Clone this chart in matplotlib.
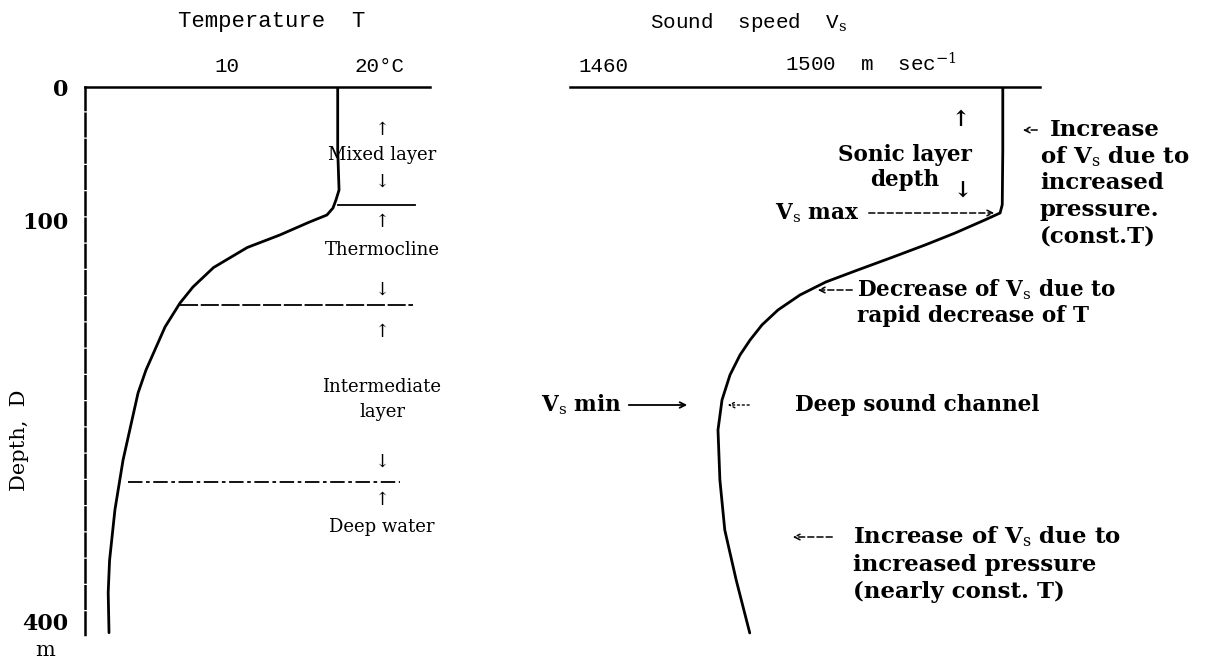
import matplotlib
matplotlib.use("Agg")
import matplotlib.pyplot as plt
from matplotlib.transforms import offset_copy

plt.rcParams["font.family"] = ["DejaVu Serif", "DejaVu Sans"]
plt.rcParams["mathtext.fontset"] = "dejavuserif"

# temperature profile (depth in m, T in deg C)
temp_depth = [0, 47, 77, 84.5, 90.5, 95.7, 101, 110.7, 120, 135, 149.5, 161.5, 179.4, 211.6, 228.8,
              278.9, 316, 354, 378, 408]
temp_c = [18.2, 18.2, 18.3, 18.07, 17.85, 17.4, 16.1, 13.9, 11.5, 9.0, 7.48, 6.52, 5.41, 4.0, 3.41,
          2.3, 1.7, 1.3, 1.2, 1.26]

# sound speed profile (depth in m, Vs in m/s)
speed_depth = [0, 47, 88, 94.2, 99.4, 109.2, 118.1, 127.1, 136.8, 145.8, 155.5, 166.7,
               177.9, 189.2, 200.4, 215.3, 234.0, 256.4, 293.8, 331.2, 368.6, 408.2]
speed = [1535.1, 1535.1, 1535.0, 1534.6, 1531.8, 1526.3, 1520.8, 1514.9, 1508.4, 1502.5,
         1497.75, 1493.7, 1490.75, 1488.55, 1486.7, 1484.86, 1483.39, 1482.65, 1483.0,
         1483.9, 1486.0, 1488.5]

# layer boundaries drawn across the temperature panel
layer_depth = [88, 163, 295]
layer_t_start = [18.2, 6.5, 2.7]
layer_t_end = [23.9, 23.8, 22.8]

depth_ticks = [0, 100, 400]
temp_ticks = [10, 20]
temp_labels = ["10", "20°C"]
speed_ticks = [1460, 1500]
speed_labels = ["1460", "1500  m  sec$^{-1}$"]

W, H = 1215, 663
fig = plt.figure(figsize=(W / 100, H / 100), dpi=100)

def px_axes(x0, x1, y0, y1):
    return fig.add_axes([x0 / W, 1 - y1 / H, (x1 - x0) / W, (y1 - y0) / H])

ax1 = px_axes(85, 430, 87, 655)
ax2 = px_axes(570, 1040, 87, 655)

dmax = (655 - 87) / 1.3375
for ax in (ax1, ax2):
    ax.set_ylim(dmax, 0)
    ax.xaxis.tick_top()
    ax.tick_params(axis="both", length=0, labelsize=14)
    for s in ("right", "bottom"):
        ax.spines[s].set_visible(False)
    ax.spines["top"].set_linewidth(1.8)
    ax.patch.set_alpha(0)

ax1.set_xlim((85 - 92) / 13.5, (430 - 92) / 13.5)
ax2.set_xlim(1460 + (570 - 595) / 5.43, 1460 + (1040 - 595) / 5.43)

# left axis: dashed depth line
ax1.spines["left"].set_bounds(0, 411)
ax1.spines["left"].set_linewidth(1.8)
ax1.spines["left"].set_linestyle((0, (9, 1.5)))
ax1.set_yticks(depth_ticks)
ax1.set_yticklabels([str(d) for d in depth_ticks], fontweight="bold", fontsize=16)
ax1.tick_params(axis="y", pad=12)
ax2.spines["left"].set_visible(False)
ax2.set_yticks([])

ax1.set_xticks(temp_ticks)
ax1.set_xticklabels(temp_labels, family="Liberation Mono", fontsize=15)
ax1.tick_params(axis="x", pad=8)
lab = ax1.get_xticklabels()[1]
lab.set_transform(offset_copy(lab.get_transform(), fig=fig, x=18, units="dots"))

ax2.set_xticks(speed_ticks)
ax2.set_xticklabels(speed_labels, family="Liberation Mono", fontsize=15)
ax2.tick_params(axis="x", pad=8)
lab = ax2.get_xticklabels()[0]
lab.set_transform(offset_copy(lab.get_transform(), fig=fig, x=8, units="dots"))
lab = ax2.get_xticklabels()[1]
lab.set_horizontalalignment("left")
lab.set_transform(offset_copy(lab.get_transform(), fig=fig, x=-27, units="dots"))

# curves
ax1.plot(temp_c, temp_depth, color="black", lw=2.0, solid_capstyle="round", solid_joinstyle="round")
ax2.plot(speed, speed_depth, color="black", lw=2.0, solid_capstyle="round", solid_joinstyle="round")

styles = ["-", (0, (10, 1.5)), (0, (8, 2, 2, 2))]
for d, t0, t1, ls in zip(layer_depth, layer_t_start, layer_t_end, styles):
    ax1.plot([t0, t1], [d, d], color="black", lw=1.3, linestyle=ls)

# titles and axis captions
fig.text(272 / W, 1 - 22 / H, "Temperature  T", family="Liberation Mono", fontsize=16,
         ha="center", va="center")
fig.text(748 / W, 1 - 22 / H, "Sound  speed  V$_\\mathrm{s}$", family="Liberation Mono",
         fontsize=15, ha="center", va="center")
fig.text(20 / W, 1 - 440 / H, "Depth,  D", fontsize=15, rotation=90, ha="center", va="center")
fig.text(45 / W, 1 - 650 / H, "m", fontsize=15, ha="center", va="center")

# layer annotations in temperature panel
def d_of(y):
    return (y - 87) / 1.3375

tx = (382 - 92) / 13.5
kw = dict(ha="center", va="center", fontsize=13)
for y, s in [(130, "↑"), (155, "Mixed layer"), (182, "↓"),
             (222, "↑"), (250, "Thermocline"), (290, "↓"),
             (332, "↑"), (387, "Intermediate"), (412, "layer"), (462, "↓"),
             (500, "↑"), (527, "Deep water")]:
    ax1.text(tx, d_of(y), s, **kw)

# sound speed annotations
def v_of(x):
    return 1460 + (x - 595) / 5.43

tk = dict(va="center", fontsize=15.5, fontweight="bold", clip_on=False)
ax2.text(v_of(960), d_of(120), "↑", ha="center", **tk)
ax2.text(v_of(905), d_of(155), "Sonic layer", ha="center", **tk)
ax2.text(v_of(905), d_of(180), "depth", ha="center", **tk)
ax2.text(v_of(962), d_of(192), "↓", ha="center", **tk)
ax2.text(v_of(860), d_of(213), "V$_\\mathrm{s}$ max", ha="right", **tk)

arrow = dict(arrowstyle="->", color="black", lw=1.1, linestyle=(0, (4, 2)))
ax2.annotate("", xy=(v_of(997), d_of(213)), xytext=(v_of(866), d_of(213)), arrowprops=arrow)

ax2.annotate("", xy=(v_of(1020), d_of(130)), xytext=(v_of(1040), d_of(130)),
             arrowprops=arrow, annotation_clip=False)
tk_r = dict(tk, fontsize=16.5)
ax2.text(v_of(1050), d_of(130), "Increase", ha="left", **tk_r)
for y, s in [(157, "of V$_\\mathrm{s}$ due to"), (183, "increased"),
             (210, "pressure."), (236, "(const.T)")]:
    ax2.text(v_of(1040), d_of(y), s, ha="left", **tk_r)

ax2.annotate("", xy=(v_of(815), d_of(290)), xytext=(v_of(855), d_of(290)), arrowprops=arrow)
ax2.text(v_of(857), d_of(290), "Decrease of V$_\\mathrm{s}$ due to", ha="left", **tk)
ax2.text(v_of(857), d_of(316), "rapid decrease of T", ha="left", **tk)

ax2.text(v_of(622), d_of(405), "V$_\\mathrm{s}$ min", ha="right", **tk)
ax2.annotate("", xy=(v_of(690), d_of(405)), xytext=(v_of(626), d_of(405)),
             arrowprops=dict(arrowstyle="->", color="black", lw=1.3))
ax2.annotate("", xy=(v_of(725), d_of(405)), xytext=(v_of(752), d_of(405)),
             arrowprops=dict(arrowstyle="->", color="black", lw=1.0, linestyle=(0, (1.5, 2))))
ax2.text(v_of(795), d_of(405), "Deep sound channel", ha="left", **tk)

ax2.annotate("", xy=(v_of(790), d_of(537)), xytext=(v_of(835), d_of(537)), arrowprops=arrow)
for y, s in [(537, "Increase of V$_\\mathrm{s}$ due to"), (565, "increased pressure"),
             (592, "(nearly const. T)")]:
    ax2.text(v_of(853), d_of(y), s, ha="left", **tk_r)

fig.savefig("out.png", dpi=100)
